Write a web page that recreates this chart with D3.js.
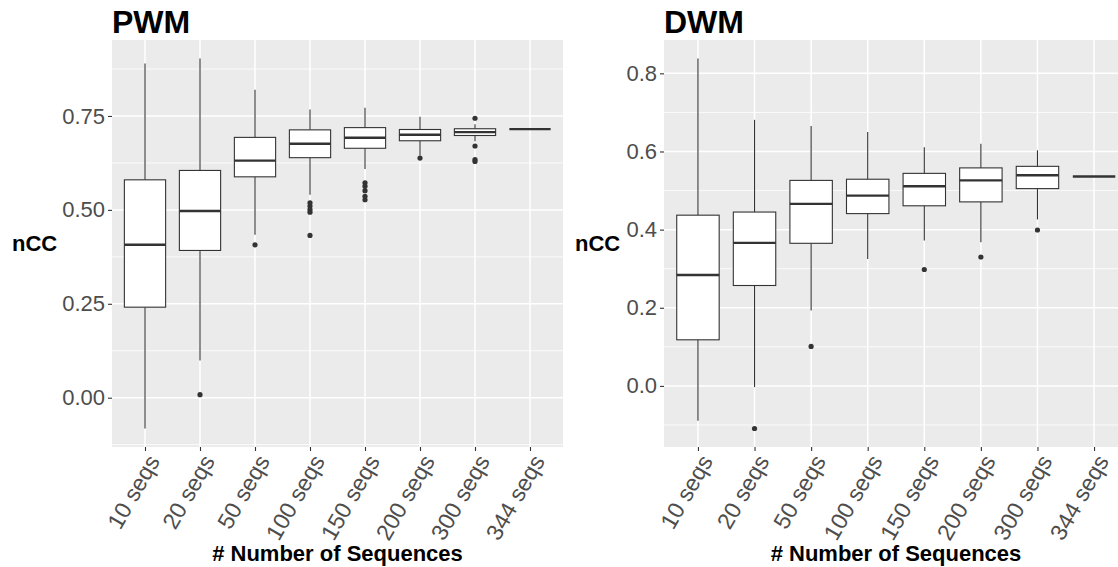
<!DOCTYPE html>
<html>
<head>
<meta charset="utf-8">
<script src="https://cdn.jsdelivr.net/npm/d3@7"></script>
<style>
  body { margin: 0; background: #ffffff; }
  svg { display: block; }
  text { font-family: "Liberation Sans", Arial, Helvetica, sans-serif; }
</style>
</head>
<body>
<svg id="chart" width="1118" height="567"></svg>
<script>
// Sample-size groups shared by both panels
const categories = ["10 seqs", "20 seqs", "50 seqs", "100 seqs", "150 seqs", "200 seqs", "300 seqs", "344 seqs"];

// PWM: box-plot summary per group
const pwmLower    = [-0.082, 0.099, 0.434, 0.540, 0.609, 0.645, 0.683, 0.715];
const pwmQ1       = [ 0.241, 0.392, 0.588, 0.639, 0.664, 0.684, 0.698, 0.715];
const pwmMedian   = [ 0.407, 0.497, 0.631, 0.676, 0.692, 0.700, 0.707, 0.715];
const pwmQ3       = [ 0.580, 0.605, 0.693, 0.713, 0.719, 0.714, 0.716, 0.715];
const pwmUpper    = [ 0.890, 0.903, 0.820, 0.767, 0.772, 0.748, 0.728, 0.715];
const pwmOutliers = [[], [0.008], [0.407], [0.519, 0.510, 0.501, 0.494, 0.432],
                     [0.572, 0.563, 0.551, 0.536, 0.527], [0.638], [0.744, 0.670, 0.634, 0.629], []];
const pwmTicks    = [0, 0.25, 0.5, 0.75];

// DWM: box-plot summary per group
const dwmLower    = [-0.089, -0.003, 0.193, 0.325, 0.372, 0.368, 0.426, 0.536];
const dwmQ1       = [ 0.118,  0.257, 0.365, 0.441, 0.461, 0.471, 0.505, 0.536];
const dwmMedian   = [ 0.284,  0.366, 0.466, 0.487, 0.511, 0.526, 0.539, 0.536];
const dwmQ3       = [ 0.437,  0.445, 0.526, 0.529, 0.544, 0.558, 0.562, 0.536];
const dwmUpper    = [ 0.838,  0.681, 0.665, 0.650, 0.611, 0.620, 0.603, 0.536];
const dwmOutliers = [[], [-0.109], [0.101], [], [0.298], [0.330], [0.399], []];
const dwmTicks    = [0, 0.2, 0.4, 0.6, 0.8];

const yTitle = "nCC";
const xTitle = "# Number of Sequences";

function rows(lower, q1, med, q3, upper, outl) {
  return categories.map((c, i) => ({
    cat: c, lower: lower[i], q1: q1[i], median: med[i], q3: q3[i], upper: upper[i], outliers: outl[i]
  }));
}

const panels = [
  { title: "PWM", left: 112, right: 563, top: 40, bottom: 447, titleX: 12,
    ticks: pwmTicks, fmt: d3.format(".2f"),
    data: rows(pwmLower, pwmQ1, pwmMedian, pwmQ3, pwmUpper, pwmOutliers) },
  { title: "DWM", left: 664, right: 1128, top: 40, bottom: 447, titleX: 575,
    ticks: dwmTicks, fmt: d3.format(".1f"),
    data: rows(dwmLower, dwmQ1, dwmMedian, dwmQ3, dwmUpper, dwmOutliers) }
];

const svg = d3.select("#chart");
const ink = "#333333";
const font = '"Liberation Sans", Arial, sans-serif';

panels.forEach(p => {
  const g = svg.append("g");

  // y extent over whiskers and outliers, padded 5% each side
  const all = p.data.flatMap(d => [d.lower, d.upper, ...d.outliers]);
  const lo = d3.min(all), hi = d3.max(all), pad = (hi - lo) * 0.05;
  const y = d3.scaleLinear().domain([lo - pad, hi + pad]).range([p.bottom, p.top]);
  const x = d3.scalePoint().domain(categories).range([p.left, p.right]).padding(0.6);
  const bw = x.step() * 0.75;

  // panel background
  g.append("rect")
    .attr("x", p.left).attr("y", p.top)
    .attr("width", p.right - p.left).attr("height", p.bottom - p.top)
    .attr("fill", "#EBEBEB");

  // minor horizontal grid halfway between major ticks
  const stepT = p.ticks[1] - p.ticks[0];
  const minor = d3.range(p.ticks[0] - stepT / 2, p.ticks[p.ticks.length - 1] + stepT, stepT)
    .filter(v => v >= y.domain()[0] && v <= y.domain()[1]);
  g.selectAll(".minor").data(minor).join("line")
    .attr("x1", p.left).attr("x2", p.right)
    .attr("y1", d => y(d)).attr("y2", d => y(d))
    .attr("stroke", "#ffffff").attr("stroke-width", 0.8);

  // major grid
  g.selectAll(".hmajor").data(p.ticks).join("line")
    .attr("x1", p.left).attr("x2", p.right)
    .attr("y1", d => y(d)).attr("y2", d => y(d))
    .attr("stroke", "#ffffff").attr("stroke-width", 1.5);
  g.selectAll(".vmajor").data(categories).join("line")
    .attr("x1", d => x(d)).attr("x2", d => x(d))
    .attr("y1", p.top).attr("y2", p.bottom)
    .attr("stroke", "#ffffff").attr("stroke-width", 1.5);

  // boxes
  const box = g.selectAll(".box").data(p.data).join("g");
  box.append("line")
    .attr("x1", d => x(d.cat)).attr("x2", d => x(d.cat))
    .attr("y1", d => y(d.q3)).attr("y2", d => y(d.upper))
    .attr("stroke", ink).attr("stroke-width", 1.1);
  box.append("line")
    .attr("x1", d => x(d.cat)).attr("x2", d => x(d.cat))
    .attr("y1", d => y(d.q1)).attr("y2", d => y(d.lower))
    .attr("stroke", ink).attr("stroke-width", 1.1);
  box.append("rect")
    .attr("x", d => x(d.cat) - bw / 2).attr("width", bw)
    .attr("y", d => y(d.q3)).attr("height", d => y(d.q1) - y(d.q3))
    .attr("fill", "#ffffff").attr("stroke", ink).attr("stroke-width", 1.1);
  box.append("line")
    .attr("x1", d => x(d.cat) - bw / 2).attr("x2", d => x(d.cat) + bw / 2)
    .attr("y1", d => y(d.median)).attr("y2", d => y(d.median))
    .attr("stroke", ink).attr("stroke-width", 2.4);
  box.selectAll("circle").data(d => d.outliers.map(v => ({ cat: d.cat, v }))).join("circle")
    .attr("cx", d => x(d.cat)).attr("cy", d => y(d.v)).attr("r", 2.6)
    .attr("fill", ink);

  // y axis
  const ya = g.append("g").attr("transform", `translate(${p.left},0)`)
    .call(d3.axisLeft(y).tickValues(p.ticks).tickFormat(p.fmt).tickSize(4).tickPadding(3));
  ya.select(".domain").remove();
  ya.selectAll(".tick line").attr("stroke", ink).attr("stroke-width", 1.1);
  ya.selectAll(".tick text").attr("fill", "#4D4D4D").style("font-size", "22px")
    .style("font-family", font);

  // x axis with slanted labels
  const xa = g.append("g").attr("transform", `translate(0,${p.bottom})`)
    .call(d3.axisBottom(x).tickSize(4).tickPadding(0));
  xa.select(".domain").remove();
  xa.selectAll(".tick line").attr("stroke", ink).attr("stroke-width", 1.1);
  xa.selectAll(".tick text")
    .attr("fill", "#4D4D4D").style("font-size", "23px")
    .style("font-family", font)
    .attr("text-anchor", "end")
    .attr("y", 0).attr("dy", "0.35em")
    .attr("transform", "translate(8,10) rotate(-60)");

  // titles
  g.append("text").attr("x", p.left).attr("y", 33)
    .attr("font-size", 32).attr("font-weight", "bold").attr("fill", "#000")
    .text(p.title);
  g.append("text").attr("x", p.titleX).attr("y", (p.top + p.bottom) / 2)
    .attr("dy", "0.35em").attr("font-size", 22).attr("font-weight", "bold").attr("fill", "#000")
    .text(yTitle);
  g.append("text").attr("x", (p.left + p.right) / 2).attr("y", 561)
    .attr("text-anchor", "middle").attr("font-size", 22).attr("font-weight", "bold").attr("fill", "#000")
    .text(xTitle);
});
</script>
</body>
</html>
